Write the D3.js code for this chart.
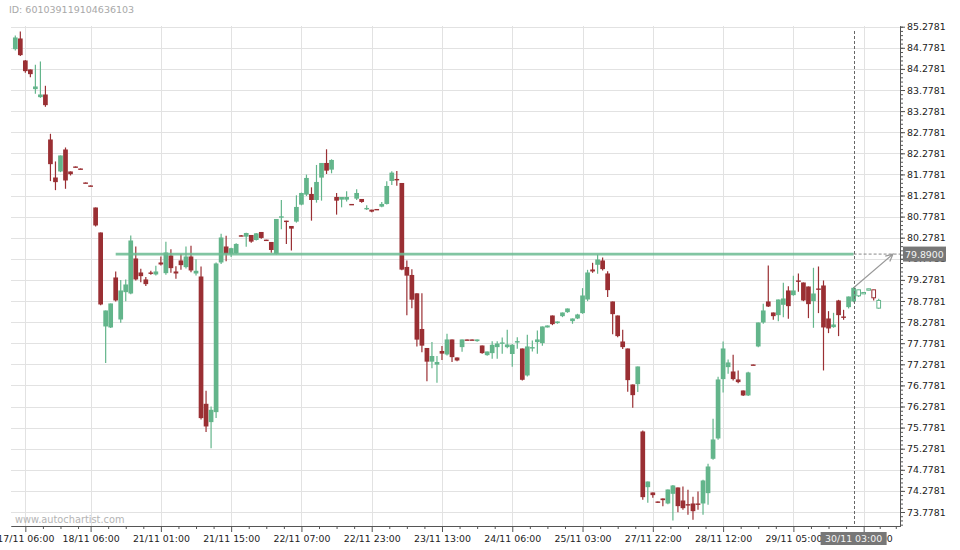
<!DOCTYPE html>
<html>
<head>
<meta charset="utf-8">
<script src="https://cdn.jsdelivr.net/npm/d3@7"></script>
<style>
  body { margin: 0; background: #fff; }
  svg { display: block; font-family: "DejaVu Sans", sans-serif; }
</style>
</head>
<body>
<svg id="chart" width="960" height="550"></svg>
<script>
// hourly candles, index 0..172
const opens = [84.746,84.999,84.478,84.265,83.799,83.609,83.672,82.606,81.705,81.848,82.369,81.848,81.966,81.918,81.587,81.516,80.994,80.402,78.175,78.151,
  79.336,78.340,78.988,78.956,79.786,79.454,79.289,79.454,79.407,79.691,79.438,79.857,79.478,79.739,79.581,79.833,79.430,79.359,76.342,75.908,
  76.145,79.691,80.070,79.890,79.908,80.335,80.303,80.343,80.224,80.414,80.232,80.177,79.893,80.770,80.682,80.556,80.659,81.062,81.299,81.315,
  81.172,81.702,82.049,81.891,81.243,81.180,81.180,81.078,81.204,81.196,80.967,80.943,80.959,81.014,81.078,81.623,81.670,81.575,79.585,79.395,
  78.960,78.115,77.665,77.341,77.270,77.594,77.511,77.867,77.440,77.685,77.867,77.867,77.827,77.724,77.495,77.543,77.685,77.780,77.685,77.522,
  77.811,77.653,77.014,77.669,77.804,77.780,78.151,78.435,78.254,78.419,78.514,78.301,78.364,78.491,78.814,79.525,79.636,79.739,79.431,78.767,
  78.435,77.819,77.653,76.800,76.808,75.687,74.367,74.241,74.028,74.099,73.980,74.209,74.360,74.051,73.964,73.980,73.980,73.980,74.225,75.039,
  75.521,76.927,77.211,77.108,76.919,76.658,76.540,77.274,77.701,78.269,78.767,78.506,78.443,78.688,79.028,78.917,79.265,79.217,79.122,78.775,
  79.075,79.146,78.364,78.159,78.791,78.411,78.633,78.767,78.901,78.964,79.035,79.043,78.609];
const highs = [85.070,85.165,84.490,84.265,84.375,84.454,83.878,82.740,82.085,82.227,82.416,81.848,81.966,81.918,81.587,81.516,80.994,80.402,78.554,78.720,
  79.478,79.273,79.289,80.331,80.070,79.541,79.344,79.494,79.612,79.833,80.181,80.007,79.604,79.889,80.070,80.086,79.770,79.596,76.650,76.279,
  79.691,80.370,80.323,80.040,80.145,80.340,80.398,80.343,80.390,80.414,80.232,80.177,80.722,81.172,80.682,80.556,81.283,81.346,81.773,81.472,
  82.002,82.049,82.373,82.136,81.338,81.243,81.378,81.078,81.425,81.196,81.046,80.943,80.959,81.125,81.615,81.852,81.860,81.575,79.735,79.529,
  78.960,78.960,77.665,77.807,77.475,77.713,78.001,77.867,77.440,77.867,77.867,77.867,77.867,77.724,77.582,77.827,77.827,77.914,78.096,77.760,
  77.922,77.653,77.977,77.843,78.080,78.175,78.198,78.435,78.293,78.506,78.601,78.364,78.475,79.083,79.517,79.683,79.881,79.810,79.486,78.767,
  78.435,78.096,77.653,76.800,77.227,75.710,74.501,74.241,74.028,74.099,74.312,74.420,74.360,74.383,74.304,74.138,74.265,74.541,74.920,75.987,
  76.982,77.819,77.393,77.503,77.132,76.658,77.100,77.274,78.269,78.712,79.620,78.506,78.814,79.209,79.130,79.375,79.431,79.217,79.122,79.565,
  79.596,79.265,78.538,78.498,78.806,78.569,78.885,79.107,79.043,78.980,79.067,79.043,78.830];
const lows = [84.715,84.581,84.186,84.083,83.688,83.593,83.380,81.619,81.405,81.832,81.437,81.753,81.942,81.903,81.571,81.500,80.544,78.680,77.306,78.136,
  78.767,78.262,78.775,78.941,79.265,79.225,79.131,79.399,79.383,79.620,79.399,79.446,79.304,79.517,79.549,79.462,79.383,75.971,75.671,75.291,
  76.003,79.652,79.723,79.820,79.893,80.310,80.066,80.161,80.209,80.256,80.216,79.924,79.880,80.477,80.130,79.972,80.635,81.046,81.267,80.682,
  81.109,81.156,81.788,81.804,80.825,80.998,81.133,81.062,81.172,81.109,80.935,80.880,80.943,80.998,81.062,81.528,81.512,79.506,78.439,78.605,
  77.697,77.562,76.875,77.183,76.841,77.381,77.488,77.330,77.353,77.574,77.851,77.851,77.811,77.527,77.480,77.408,77.408,77.527,77.661,77.221,
  77.645,76.895,76.990,77.582,77.527,77.717,78.151,78.206,78.240,78.396,78.498,78.238,78.350,78.475,78.775,79.446,79.423,79.502,78.870,77.993,
  77.922,77.638,76.626,76.247,76.619,74.067,73.996,74.115,73.990,73.917,73.960,73.578,73.775,73.830,73.712,73.593,73.830,73.712,73.949,75.015,
  75.489,76.611,77.053,76.895,76.832,76.524,76.524,77.258,77.685,78.238,78.633,78.333,78.301,78.396,78.356,78.901,78.996,78.775,78.372,78.143,
  78.491,77.132,78.017,78.143,77.946,78.333,78.601,78.751,78.870,78.964,79.035,78.791,78.593];
const closes = [85.023,84.604,84.225,84.154,83.862,83.672,83.419,82.021,81.595,82.227,81.634,81.784,81.942,81.903,81.571,81.500,80.568,78.696,78.554,78.720,
  78.791,79.028,79.170,80.212,79.289,79.367,79.178,79.438,79.478,79.644,79.928,79.557,79.430,79.628,79.833,79.502,79.494,76.003,75.805,76.200,
  79.668,80.283,79.897,80.030,80.130,80.319,80.390,80.185,80.382,80.272,80.216,79.987,80.722,80.785,80.667,80.493,81.007,81.338,81.694,81.172,
  81.599,82.049,81.867,82.120,81.156,81.243,81.243,81.062,81.338,81.125,80.983,80.896,80.943,81.078,81.504,81.820,81.654,79.522,79.379,78.810,
  77.863,77.720,77.341,77.475,77.333,77.531,77.867,77.448,77.369,77.867,77.851,77.851,77.867,77.543,77.582,77.740,77.772,77.796,77.748,77.742,
  77.827,76.911,77.701,77.685,77.867,78.175,78.198,78.230,78.293,78.506,78.601,78.364,78.459,78.909,79.454,79.478,79.762,79.533,79.036,78.467,
  77.946,77.685,76.903,76.547,77.227,74.130,74.501,74.178,74.012,74.059,74.312,74.407,73.917,73.869,73.948,73.798,73.964,74.525,74.857,75.497,
  76.919,77.653,77.322,76.927,76.856,76.540,77.085,77.258,78.269,78.554,78.648,78.419,78.814,78.838,78.656,79.028,79.249,78.791,78.704,78.956,
  79.059,78.151,78.127,78.222,78.443,78.396,78.885,79.091,79.043,78.980,79.067,78.854,78.791];

const tickIdx    = [2, 15, 29, 43, 57, 71, 85, 99, 113, 127, 141, 155, 169];
const tickLabels = ["17/11 06:00", "18/11 06:00", "21/11 01:00", "21/11 15:00", "22/11 07:00", "22/11 23:00",
                    "23/11 13:00", "24/11 06:00", "25/11 03:00", "27/11 22:00", "28/11 12:00", "29/11 05:00", "30/11 05:00"];
const priceTicks = [73.7781, 74.2781, 74.7781, 75.2781, 75.7781, 76.2781, 76.7781, 77.2781, 77.7781, 78.2781, 78.7781, 79.2781,
                    79.7781, 80.2781, 80.7781, 81.2781, 81.7781, 82.2781, 82.7781, 83.2781, 83.7781, 84.2781, 84.7781, 85.2781];

const level      = 79.89;
const levelStart = 20;
const currentIdx = 167;
const currentLabel = "30/11 03:00";

const green = "#63b58b";
const red   = "#9a2f33";

const svg = d3.select("#chart");
const plotL = 11, plotR = 900, plotT = 26, plotB = 526;

const x = d3.scaleLinear().domain([-0.857, 176.24]).range([plotL, plotR]);
const y = d3.scaleLinear().domain([73.4464, 85.2947]).range([plotB, plotT]);

// header text
svg.append("text").attr("x", 9).attr("y", 13).attr("fill", "#a8a8a8")
   .attr("font-size", "9.5px").text("ID: 601039119104636103");

// grid
const grid = svg.append("g");
grid.selectAll("line.h").data(priceTicks).enter().append("line")
    .attr("x1", plotL).attr("x2", plotR)
    .attr("y1", d => Math.round(y(d)) + 0.5).attr("y2", d => Math.round(y(d)) + 0.5)
    .attr("stroke", "#e2e2e2");
grid.selectAll("line.v").data(tickIdx).enter().append("line")
    .attr("x1", d => Math.round(x(d)) + 0.5).attr("x2", d => Math.round(x(d)) + 0.5)
    .attr("y1", plotT).attr("y2", plotB)
    .attr("stroke", "#e2e2e2");

svg.append("text").attr("x", 15).attr("y", 523).attr("fill", "#b4b4b4")
   .attr("font-size", "9.8px").text("www.autochartist.com");

// candles
const idx = d3.range(opens.length);
const bw = 4.7;
const candles = svg.append("g");
candles.selectAll("line").data(idx).enter().append("line")
   .attr("x1", i => x(i)).attr("x2", i => x(i))
   .attr("y1", i => y(highs[i])).attr("y2", i => y(lows[i]))
   .attr("stroke", i => closes[i] >= opens[i] ? green : red)
   .attr("stroke-width", 1.2);

candles.selectAll("rect").data(idx).enter().append("rect")
   .attr("x", i => x(i) - bw / 2 + (i > currentIdx ? 0.5 : 0))
   .attr("width", i => i > currentIdx ? bw - 1 : bw)
   .attr("y", i => y(Math.max(opens[i], closes[i])))
   .attr("height", i => Math.max(1.4, y(Math.min(opens[i], closes[i])) - y(Math.max(opens[i], closes[i]))))
   .attr("fill", i => i > currentIdx ? "#fff" : (closes[i] >= opens[i] ? green : red))
   .attr("stroke", i => i > currentIdx ? (closes[i] >= opens[i] ? green : red) : "none")
   .attr("stroke-width", 1);

// level line
svg.append("line")
   .attr("x1", x(levelStart)).attr("x2", x(currentIdx))
   .attr("y1", y(level)).attr("y2", y(level))
   .attr("stroke", "#6cbb92").attr("stroke-width", 2.6).attr("opacity", 0.85);

svg.append("line")
   .attr("x1", x(currentIdx)).attr("x2", plotR)
   .attr("y1", y(level)).attr("y2", y(level))
   .attr("stroke", "#888").attr("stroke-dasharray", "3,2");

svg.append("line")
   .attr("x1", Math.round(x(currentIdx)) + 0.5).attr("x2", Math.round(x(currentIdx)) + 0.5)
   .attr("y1", 31).attr("y2", plotB)
   .attr("stroke", "#666").attr("stroke-dasharray", "3,2");

// arrow to level
const ax0 = x(currentIdx), ay0 = y(closes[currentIdx]);
const ax1 = 893, ay1 = y(level);
const ang = Math.atan2(ay1 - ay0, ax1 - ax0);
const ah = 8;
svg.append("path")
   .attr("d", `M${ax0},${ay0}L${ax1},${ay1}` +
              `M${ax1 - ah * Math.cos(ang - 0.45)},${ay1 - ah * Math.sin(ang - 0.45)}L${ax1},${ay1}` +
              `L${ax1 - ah * Math.cos(ang + 0.45)},${ay1 - ah * Math.sin(ang + 0.45)}`)
   .attr("fill", "none").attr("stroke", "#999").attr("stroke-width", 1.2);

// axes
const styleAxis = (g) => {
  g.select(".domain").attr("stroke", "#555");
  g.selectAll(".tick line").attr("stroke", "#555");
  g.selectAll(".tick text").attr("fill", "#222").attr("font-size", "9.4px")
   .attr("font-family", "DejaVu Sans, sans-serif");
};

const minorY = d3.range(0, 119).map(k => 73.4781 + k * 0.1).filter(v => v < 85.29);
svg.append("g").attr("transform", `translate(${plotR},0)`)
   .call(d3.axisRight(y).tickValues(minorY).tickSize(3).tickSizeOuter(0).tickFormat(""))
   .call(styleAxis);
svg.append("g").attr("transform", `translate(${plotR},0)`)
   .call(d3.axisRight(y).tickValues(priceTicks).tickSize(5).tickPadding(2).tickSizeOuter(0).tickFormat(d => d.toFixed(4)))
   .call(styleAxis);

let minorX = [];
tickIdx.forEach((t, k) => {
  const next = k < tickIdx.length - 1 ? tickIdx[k + 1] : 176;
  [3.5, 7, 10.5].forEach(s => { if (t + s < next - 1) minorX.push(t + s); });
});
minorX = minorX.filter(v => v < 171).concat([172.2, 175.4]);
svg.append("g").attr("transform", `translate(0,${plotB})`)
   .call(d3.axisBottom(x).tickValues(minorX).tickSize(3).tickSizeOuter(0).tickFormat(""))
   .call(styleAxis);
svg.append("g").attr("transform", `translate(0,${plotB})`)
   .call(d3.axisBottom(x).tickValues(tickIdx).tickSize(6).tickPadding(3).tickSizeOuter(0)
        .tickFormat((d, i) => tickLabels[i]))
   .call(styleAxis);

// highlighted labels
const cx = x(currentIdx);
svg.append("rect").attr("x", cx - 33).attr("y", 532).attr("width", 66).attr("height", 13).attr("fill", "#777");
svg.append("text").attr("x", cx).attr("y", 541.5).attr("text-anchor", "middle")
   .attr("fill", "#f4f4f4").attr("font-size", "9.4px").text(currentLabel);

svg.append("rect").attr("x", 903).attr("y", y(level) - 7.5).attr("width", 43).attr("height", 15).attr("fill", "#777");
svg.append("text").attr("x", 905).attr("y", y(level) + 3.5)
   .attr("fill", "#f4f4f4").attr("font-size", "9.4px").text(level.toFixed(4));
</script>
</body>
</html>
